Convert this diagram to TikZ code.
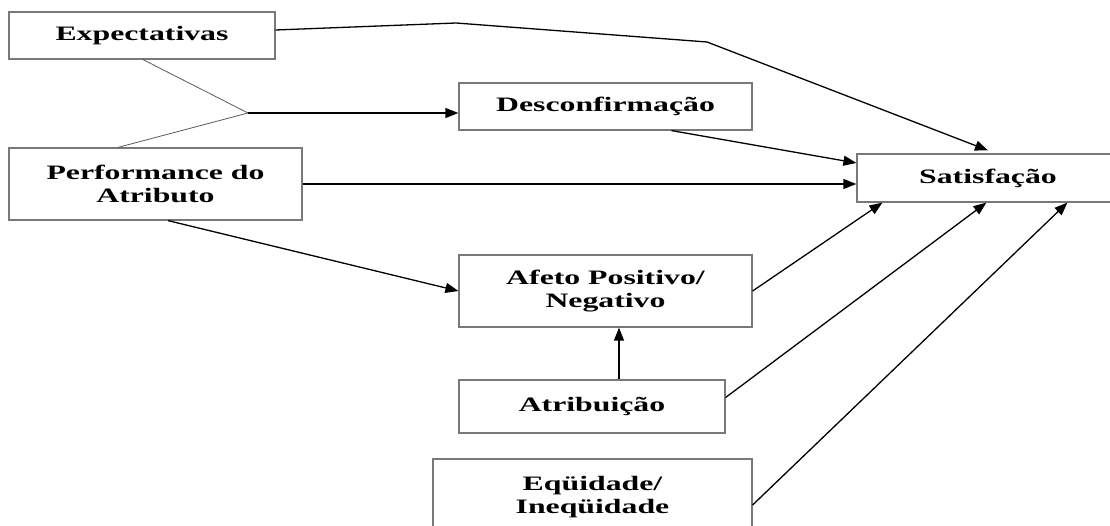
\documentclass[tikz,border=0pt]{standalone}
\usepackage{fontspec}
\setmainfont{Liberation Serif}[FakeStretch=1.55]
\usetikzlibrary{arrows.meta,calc}
\definecolor{boxgray}{RGB}{120,120,120}
\definecolor{linkgray}{RGB}{90,90,90}
\begin{document}
\begin{tikzpicture}[x=1pt,y=-1pt,
  box/.style={draw=boxgray,line width=1.2pt,fill=white,inner sep=0pt,align=center,
    font=\fontsize{20.5}{23.5}\selectfont\bfseries},
  arr/.style={draw=black,line width=1.3pt,-{Triangle[length=13pt,width=10pt]}},
  link/.style={draw=linkgray,line width=0.8pt}]
\useasboundingbox (0,0) rectangle (1110,526);
\node[box,minimum width=266pt,minimum height=47pt] (ex) at (142,35.5) {Expectativas};
\node[box,minimum width=293pt,minimum height=72pt] (pf) at (155.5,184) {Performance do\\Atributo};
\node[box,minimum width=293pt,minimum height=47pt] (dc) at (605.5,106.5) {Desconfirmação};
\node[box,minimum width=262pt,minimum height=48pt] (st) at (988,178) {Satisfação};
\node[box,minimum width=293pt,minimum height=72pt] (af) at (605.5,291) {Afeto Positivo/\\Negativo};
\node[box,minimum width=266pt,minimum height=53pt] (at) at (592,406.5) {Atribuição};
\node[box,minimum width=319pt,minimum height=76pt] (eq) at (592.5,497) {Eqüidade/\\Ineqüidade};
\coordinate (j) at (248,113);
\coordinate (t1) at (456,23);
\coordinate (t2) at (707,42);
\draw[link] ([xshift=1pt]ex.south) -- (j);
\draw[link] ([xshift=-37.5pt]pf.north) -- (j);
\draw[arr] (j) -- (j -| dc.west);
\draw[arr] ([yshift=5.5pt]ex.east) -- (t1) -- (t2) -- ([yshift=3pt]st.north);
\draw[arr] ([xshift=66pt]dc.south) -- ([yshift=15pt]st.west);
\draw[arr] (pf.east) -- (pf.east -| st.west);
\draw[arr] ([xshift=12.5pt]pf.south) -- (af.west);
\draw[arr] (af.east) -- ([xshift=26pt]st.south west);
\draw[arr] ([xshift=27pt]at.north) -- ([xshift=13.5pt]af.south);
\draw[arr] ([yshift=9pt]at.east) -- ([xshift=130pt]st.south west);
\draw[arr] ([yshift=-8pt]eq.east) -- ([xshift=211pt]st.south west);
\end{tikzpicture}
\end{document}
